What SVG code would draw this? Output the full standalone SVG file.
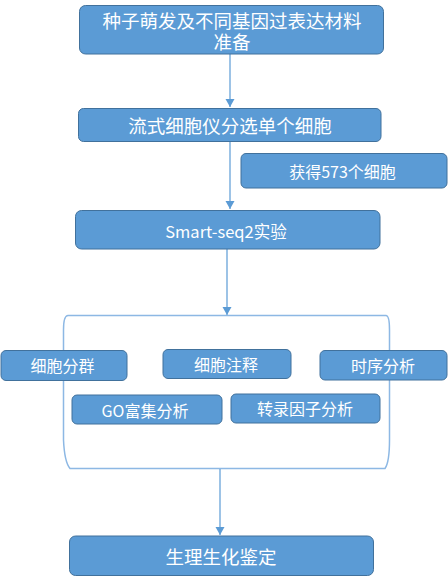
<svg xmlns="http://www.w3.org/2000/svg" width="448" height="576" viewBox="0 0 448 576">
<defs>
<style>
.box{fill:#5B9BD5;stroke:#41719C;stroke-width:1}
.t{font-family:"Noto Sans CJK SC","Noto Sans",sans-serif;fill:#FFFFFF;text-anchor:middle;dominant-baseline:central}
.c{stroke:#5B9BD5;stroke-width:1.2;fill:none}
.br{stroke:#8DB8E4;stroke-width:1.5;fill:none}
</style>
<marker id="ah" markerWidth="10" markerHeight="10" refX="8" refY="5" orient="auto" markerUnits="userSpaceOnUse">
<path d="M0,0.5 L8,5 L0,9.5 Z" fill="#5B9BD5"/>
</marker>
</defs>
<rect width="448" height="576" fill="#FFFFFF"/>
<g id="connectors">
<line class="c" x1="230" y1="54" x2="230" y2="107" marker-end="url(#ah)"/>
<line class="c" x1="230" y1="141" x2="230" y2="209" marker-end="url(#ah)"/>
<line class="c" x1="227" y1="249" x2="227" y2="315" marker-end="url(#ah)"/>
<path class="br" d="M63.5,330 Q63.5,315.5 68,315.5 L386,315.5 Q389.5,315.5 389.5,330 L389.5,440 Q389.5,462 385,468.5 L70,468.5 Q64.5,462 63.5,440 Z"/>
<line class="c" x1="220" y1="469" x2="220" y2="535" marker-end="url(#ah)"/>
</g>
<g id="n1"><rect class="box" x="79.5" y="5.5" width="304" height="48.5" rx="6"/>
<text class="t" x="232" y="19.5" font-size="18.5">种子萌发及不同基因过表达材料</text>
<text class="t" x="232" y="41" font-size="18.5">准备</text></g>
<g id="n2"><rect class="box" x="78.5" y="108.5" width="302.5" height="33" rx="5"/>
<text class="t" x="230" y="124.5" font-size="18.5">流式细胞仪分选单个细胞</text></g>
<g id="n3"><rect class="box" x="241" y="153.5" width="206" height="34.5" rx="5"/>
<text class="t" x="342.5" y="171" font-size="16">获得573个细胞</text></g>
<g id="n4"><rect class="box" x="75.5" y="210.5" width="304.5" height="38.5" rx="6"/>
<text class="t" x="226" y="231" font-size="16.5">Smart-seq2实验</text></g>
<g id="n5"><rect class="box" x="1" y="350.5" width="126" height="30" rx="5"/>
<text class="t" x="62.5" y="365" font-size="16">细胞分群</text></g>
<g id="n6"><rect class="box" x="163" y="349.5" width="128" height="29" rx="5"/>
<text class="t" x="226" y="363.5" font-size="16">细胞注释</text></g>
<g id="n7"><rect class="box" x="320" y="350.5" width="127" height="29.5" rx="5"/>
<text class="t" x="383" y="365" font-size="16">时序分析</text></g>
<g id="n8"><rect class="box" x="72" y="395" width="150" height="29" rx="5"/>
<text class="t" x="145" y="409.5" font-size="16">GO富集分析</text></g>
<g id="n9"><rect class="box" x="231" y="394" width="149" height="29" rx="5"/>
<text class="t" x="305" y="408" font-size="16">转录因子分析</text></g>
<g id="n10"><rect class="box" x="69.5" y="536" width="304" height="39.5" rx="6"/>
<text class="t" x="221" y="555.5" font-size="18.5">生理生化鉴定</text></g>
</svg>
